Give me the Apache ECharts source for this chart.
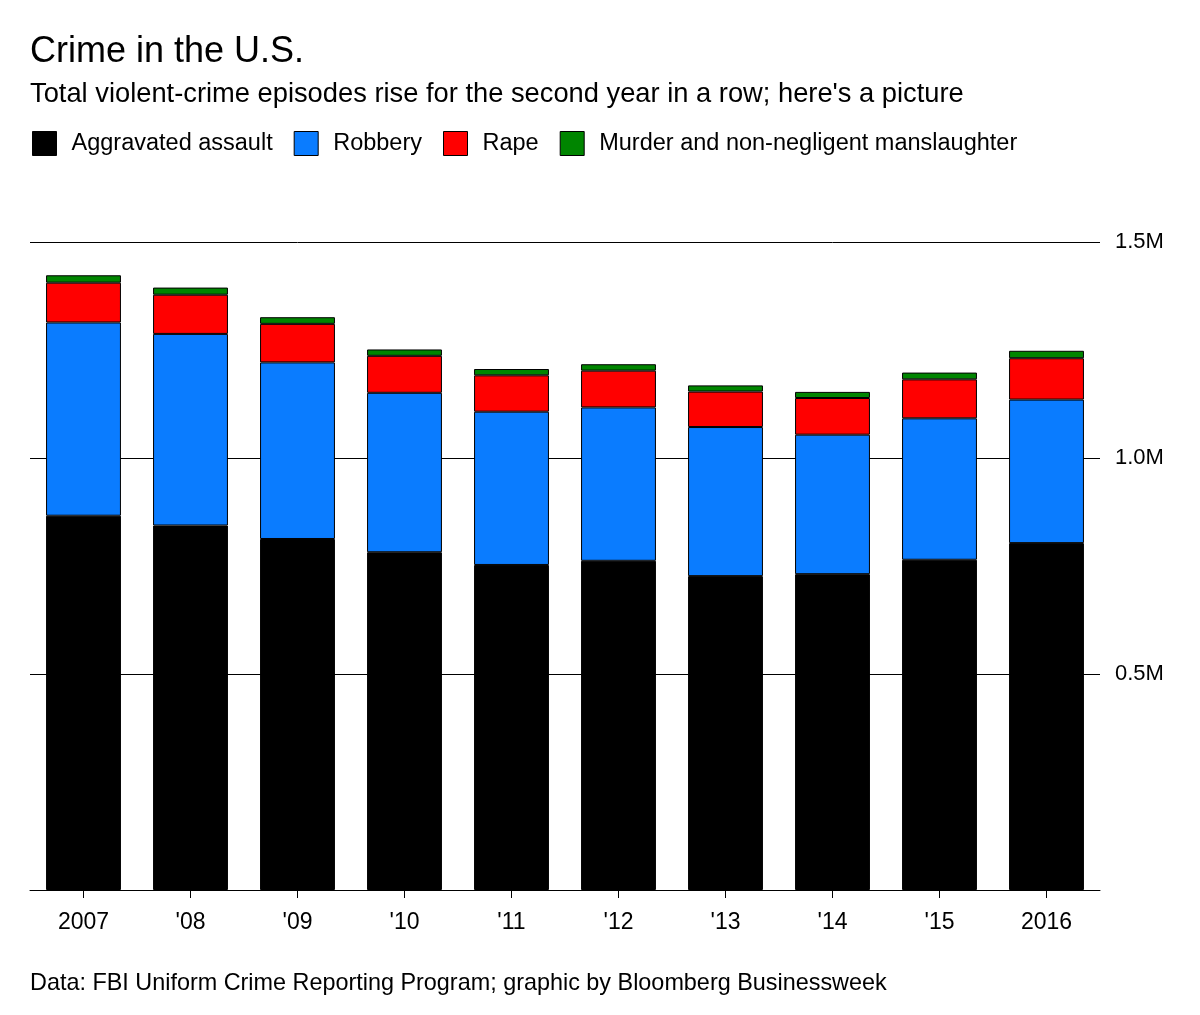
<!DOCTYPE html>
<html>
<head>
<meta charset="utf-8">
<script src="https://cdn.jsdelivr.net/npm/echarts@6/dist/echarts.min.js"></script>
<style>
html,body{margin:0;padding:0;background:#fff;}
#chart{width:1200px;height:1015px;}
</style>
</head>
<body>
<div id="chart"></div>
<script>
const years = ['2007', "'08", "'09", "'10", "'11", "'12", "'13", "'14", "'15", '2016'];
const aggravatedAssault = [866358, 843683, 812514, 781844, 752423, 762009, 726575, 731089, 764449, 803007];
const robbery = [447324, 443563, 408742, 369089, 354746, 355051, 345093, 322905, 327374, 332198];
const rape = [92160, 90750, 89241, 85593, 84175, 85141, 82109, 84864, 90185, 95730];
const murder = [17128, 16465, 15399, 14722, 14661, 14866, 14319, 14164, 15696, 17250];
const yTicks = [0, 500000, 1000000, 1500000];

const FONT = '"Liberation Sans", Arial, Helvetica, sans-serif';
const chart = echarts.init(document.getElementById('chart'), null, {renderer: 'canvas'});

function bar(name, data, color) {
  return {
    name, type: 'bar', stack: 'total', data,
    barWidth: '70%',
    itemStyle: {color, borderColor: '#000', borderWidth: 1},
    emphasis: {disabled: true}
  };
}

chart.setOption({
  animation: false,
  backgroundColor: '#fff',
  textStyle: {fontFamily: FONT},
  title: [
    {text: 'Crime in the U.S.', left: 25, top: 29,
     textStyle: {fontFamily: FONT, fontSize: 36, fontWeight: 'normal', color: '#000'}},
    {text: "Total violent-crime episodes rise for the second year in a row; here's a picture", left: 25, top: 76,
     textStyle: {fontFamily: FONT, fontSize: 27.3, fontWeight: 'normal', color: '#000'}},
    {text: 'Data: FBI Uniform Crime Reporting Program; graphic by Bloomberg Businessweek', left: 25, top: 967,
     textStyle: {fontFamily: FONT, fontSize: 23.4, fontWeight: 'normal', color: '#000'}}
  ],
  legend: {
    left: 32, top: 131, padding: 0,
    itemWidth: 24, itemHeight: 24, itemGap: 21,
    icon: 'rect',
    itemStyle: {borderColor: '#000', borderWidth: 1},
    textStyle: {fontFamily: FONT, fontSize: 23.5, color: '#000', padding: [0, 0, 0, 10]},
    data: ['Aggravated assault', 'Robbery', 'Rape', 'Murder and non-negligent manslaughter']
  },
  grid: {left: 30, right: 100, top: 242, bottom: 125},
  xAxis: {
    type: 'category', data: years,
    axisLine: {show: true, lineStyle: {color: '#000', width: 1}},
    axisTick: {show: true, alignWithLabel: true, length: 8, lineStyle: {color: '#000'}},
    axisLabel: {fontFamily: FONT, fontSize: 23, color: '#000', margin: 21}
  },
  yAxis: {
    type: 'value', position: 'right', min: 0, max: 1500000, interval: 500000,
    axisLine: {show: false}, axisTick: {show: false},
    splitLine: {show: true, lineStyle: {color: '#000', width: 1}},
    axisLabel: {
      fontFamily: FONT, fontSize: 22, color: '#000', margin: 15,
      formatter: v => yTicks.indexOf(v) > 0 ? (v / 1e6).toFixed(1) + 'M' : ''
    }
  },
  series: [
    bar('Aggravated assault', aggravatedAssault, '#000000'),
    bar('Robbery', robbery, '#0a7cff'),
    bar('Rape', rape, '#ff0000'),
    bar('Murder and non-negligent manslaughter', murder, '#008500')
  ]
});
</script>
</body>
</html>
